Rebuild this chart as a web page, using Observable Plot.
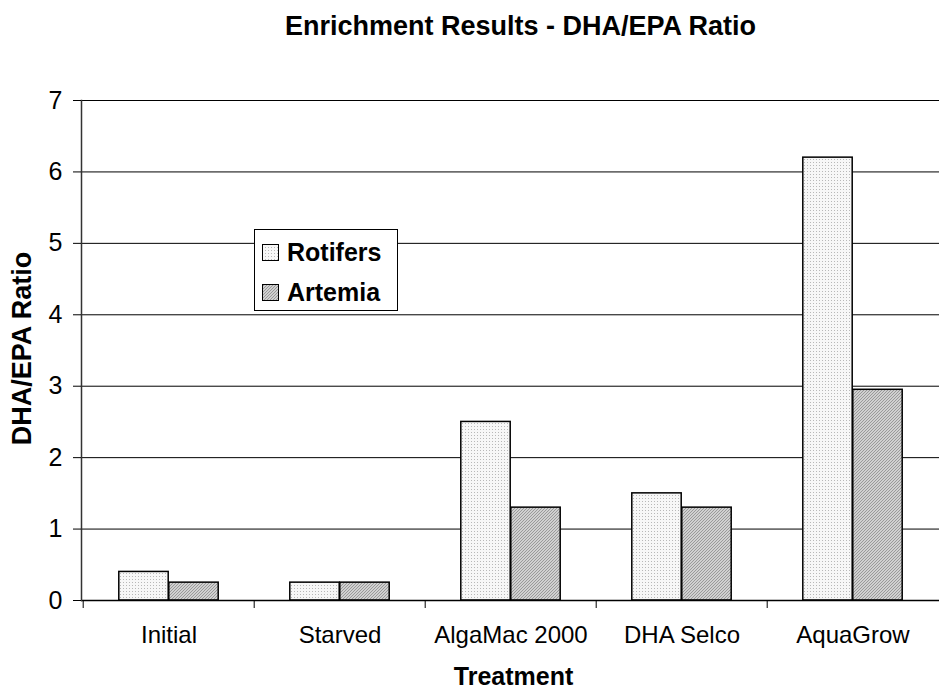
<!DOCTYPE html>
<html>
<head>
<meta charset="utf-8">
<script src="https://cdn.jsdelivr.net/npm/d3@7"></script>
<script src="https://cdn.jsdelivr.net/npm/@observablehq/plot@0.6"></script>
<style>
  html, body { margin: 0; padding: 0; background: #fff; }
  #wrap { position: relative; width: 939px; height: 688px; font-family: "Liberation Sans", Arial, sans-serif; }
  #legend { position: absolute; left: 254px; top: 229px; width: 144px; height: 82px; border: 1px solid #000; background: #fff; box-sizing: border-box; }
  .row { position: absolute; left: 7px; display: flex; align-items: center; font-weight: bold; font-size: 25px; color: #000; }
  .row svg { margin-right: 8px; }
</style>
</head>
<body>
<div id="wrap"></div>
<script>
const categories = ["Initial", "Starved", "AlgaMac 2000", "DHA Selco", "AquaGrow"];
const series = ["Rotifers", "Artemia"];
const rotifers = [0.4, 0.25, 2.5, 1.5, 6.2];
const artemia = [0.25, 0.25, 1.3, 1.3, 2.95];
const yTicks = [0, 1, 2, 3, 4, 5, 6, 7];
const title = "Enrichment Results - DHA/EPA Ratio";
const xLabel = "Treatment";
const yLabel = "DHA/EPA Ratio";

const data = [];
categories.forEach((c, i) => {
  data.push({category: c, series: "Rotifers", value: rotifers[i]});
  data.push({category: c, series: "Artemia", value: artemia[i]});
});

const W = 939, H = 688, ML = 81, MR = 0, MT = 100, MB = 88;
const band = (W - ML - MR) / categories.length;
const barW = 50;
const outer = (band - 2 * barW) / 2;

const chart = Plot.plot({
  width: W, height: H,
  marginLeft: ML, marginRight: MR, marginTop: MT, marginBottom: MB,
  style: {fontFamily: "'Liberation Sans', Arial, sans-serif", background: "#fff", color: "#000"},
  x: {domain: categories, padding: 0, axis: null},
  y: {domain: [0, 7], axis: null},
  color: {domain: series, range: ["url(#pRot)", "url(#pArt)"]},
  marks: [
    Plot.ruleY(yTicks.filter(d => d > 0), {stroke: "#000", strokeWidth: 1}),
    Plot.barY(data.filter(d => d.series === "Rotifers"), {x: "category", y: "value", fill: "series", stroke: "#000", strokeWidth: 1.5, insetLeft: outer, insetRight: outer + barW}),
    Plot.barY(data.filter(d => d.series === "Artemia"), {x: "category", y: "value", fill: "series", stroke: "#000", strokeWidth: 1.5, insetLeft: outer + barW, insetRight: outer}),
    Plot.ruleY([0], {stroke: "#000", strokeWidth: 1.5}),
    Plot.frame({anchor: "left", stroke: "#333", strokeWidth: 1.5}),
    Plot.axisY({ticks: yTicks, tickSize: 8, tickPadding: 11, fontSize: 25, label: null, tickFormat: d => String(d)}),
    Plot.axisX({tickSize: 0, tickPadding: 25, fontSize: 24, label: null}),
    Plot.axisX({tickSize: 8, tickFormat: () => "", label: null, dx: -band / 2}),
    Plot.text([title], {text: d => d, frameAnchor: "top", textAnchor: "middle", lineAnchor: "bottom", dx: 10, dy: -66, fontSize: 27, fontWeight: "bold"}),
    Plot.text([yLabel], {text: d => d, frameAnchor: "left", textAnchor: "middle", lineAnchor: "middle", rotate: -90, dx: -59, dy: -2, fontSize: 27, fontWeight: "bold"}),
    Plot.text([xLabel], {text: d => d, frameAnchor: "bottom", textAnchor: "middle", lineAnchor: "bottom", dx: 3, dy: 84, fontSize: 25, fontWeight: "bold"})
  ]
});

const defs = d3.select(chart).insert("defs", ":first-child");
const p1 = defs.append("pattern").attr("id", "pRot").attr("patternUnits", "userSpaceOnUse").attr("width", 3).attr("height", 3);
p1.append("rect").attr("width", 3).attr("height", 3).attr("fill", "#f7f7f7");
p1.append("rect").attr("width", 1).attr("height", 1).attr("fill", "#b8b8b8");
const p2 = defs.append("pattern").attr("id", "pArt").attr("patternUnits", "userSpaceOnUse").attr("width", 3).attr("height", 3);
p2.append("rect").attr("width", 3).attr("height", 3).attr("fill", "#d0d0d0");
p2.append("rect").attr("x", 0).attr("y", 2).attr("width", 1).attr("height", 1).attr("fill", "#999");
p2.append("rect").attr("x", 1).attr("y", 1).attr("width", 1).attr("height", 1).attr("fill", "#999");
p2.append("rect").attr("x", 2).attr("y", 0).attr("width", 1).attr("height", 1).attr("fill", "#999");

const wrap = document.getElementById("wrap");
wrap.appendChild(chart);

const legend = document.createElement("div");
legend.id = "legend";
const sw = (id) => `<svg width="17" height="17"><rect x="0.5" y="0.5" width="16" height="16" fill="url(#${id})" stroke="#000" stroke-width="1"/></svg>`;
legend.innerHTML = `<div class="row" style="top:8px">${sw("pRot")}<span>${series[0]}</span></div>` +
                   `<div class="row" style="top:48px">${sw("pArt")}<span>${series[1]}</span></div>`;
wrap.appendChild(legend);
</script>
</body>
</html>
